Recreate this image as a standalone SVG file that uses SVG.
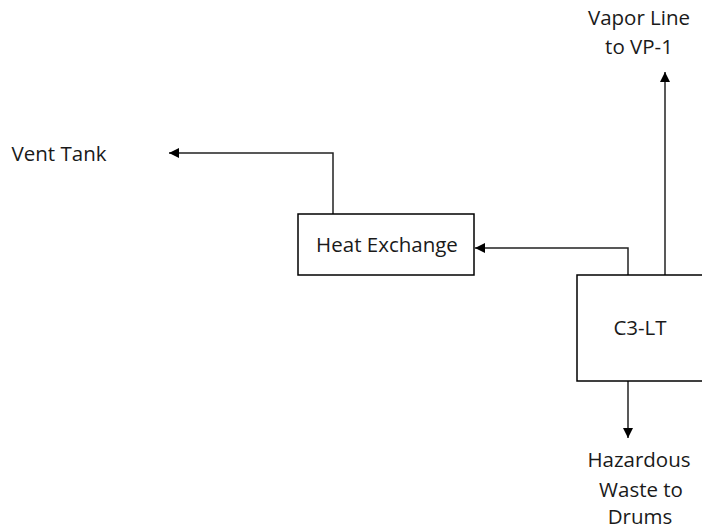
<svg xmlns="http://www.w3.org/2000/svg" width="702" height="529" viewBox="0 0 702 529">
<style>
.box{fill:#fff;stroke:#000;stroke-width:1.5}
.ln{fill:none;stroke:#222;stroke-width:1.5}
.t{font-family:"Open Sans","Noto Sans",sans-serif;font-size:20.5px;fill:#1a1a1a;text-anchor:middle}
</style>
<defs>
<marker id="ah" viewBox="0 0 10 10" refX="10" refY="5" markerWidth="10" markerHeight="10" markerUnits="userSpaceOnUse" orient="auto"><path d="M0,0 L10,5 L0,10 z" fill="#000"/></marker>
</defs>
<rect width="702" height="529" fill="#fff"/>
<g id="connectors">
<polyline class="ln" points="333,214 333,153 169,153" marker-end="url(#ah)"/>
<polyline class="ln" points="628,275 628,248 475,248" marker-end="url(#ah)"/>
<line class="ln" x1="665" y1="275" x2="665" y2="72" marker-end="url(#ah)"/>
<line class="ln" x1="628" y1="381" x2="628" y2="438" marker-end="url(#ah)"/>
</g>
<g id="heat-exchange">
<rect class="box" x="298" y="214" width="176" height="61"/>
<text class="t" x="387" y="252">Heat Exchange</text>
</g>
<g id="c3-lt">
<rect class="box" x="577" y="275" width="130" height="106"/>
<text class="t" x="640" y="335">C3-LT</text>
</g>
<g id="vent-tank">
<text class="t" x="59" y="161">Vent Tank</text>
</g>
<g id="vapor-line">
<text class="t" x="639" y="25">Vapor Line</text>
<text class="t" x="639" y="54">to VP-1</text>
</g>
<g id="hazardous-waste">
<text class="t" x="639" y="467">Hazardous</text>
<text class="t" x="641" y="497">Waste to</text>
<text class="t" x="640" y="524">Drums</text>
</g>
</svg>
